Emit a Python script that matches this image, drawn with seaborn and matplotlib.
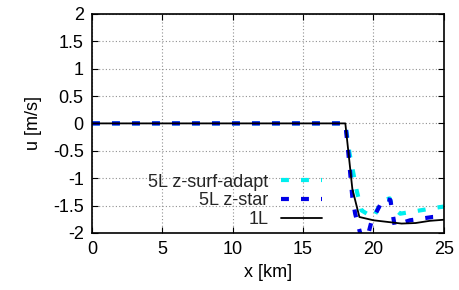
import numpy as np
import pandas as pd
import matplotlib
matplotlib.use("Agg")
import matplotlib.pyplot as plt
import seaborn as sns

# data
x_1l = [0, 5, 10, 15, 18, 18.5, 19, 20, 21, 22, 23, 24, 25]
u_1l = [0, 0, 0, 0, 0, -1.2, -1.71, -1.77, -1.8, -1.83, -1.82, -1.78, -1.76]

x_surf = [0, 5, 10, 15, 18, 18.3, 18.8, 19.15, 20.0, 20.6, 21.15, 21.35, 21.9, 23.3, 24.7, 25]
u_surf = [0, 0, 0, 0, 0, -0.55, -1.22, -1.59, -1.72, -1.41, -1.37, -1.53, -1.65, -1.59, -1.53, -1.52]

x_star = [0, 5, 10, 15, 18, 18.2, 18.35, 18.5, 18.7, 19.0, 19.35, 19.85, 20.45, 20.7, 21.2, 21.5, 22.6, 24.2, 25]
u_star = [0, 0, 0, 0, 0, -0.5, -0.92, -1.35, -1.65, -1.95, -2.3, -1.8, -1.5, -1.37, -1.4, -1.86, -1.77, -1.71, -1.7]

labels = ["5L z-surf-adapt", "5L z-star", "1L"]

sns.set_theme(style="white")
plt.rcParams['font.family'] = ['Liberation Sans', 'DejaVu Sans']

fig = plt.figure(figsize=(4.59, 2.90), dpi=100)
ax = fig.add_axes([0.2004, 0.197, 0.7666, 0.755])

sns.lineplot(x=x_surf, y=u_surf, ax=ax, color='#00eeee', lw=3.0, label=labels[0], sort=False)
sns.lineplot(x=x_star, y=u_star, ax=ax, color='#0000e6', lw=3.0, label=labels[1], sort=False)
sns.lineplot(x=x_1l, y=u_1l, ax=ax, color='black', lw=1.3, label=labels[2], sort=False)
lines = ax.get_lines()
lines[0].set_dashes([1.9, 2.9])
lines[1].set_dashes([1.9, 2.9])

ax.set_xlim(0, 25)
ax.set_ylim(-2, 2)
ax.set_xticks(np.arange(0, 26, 5))
ax.set_yticks(np.arange(-2, 2.01, 0.5))
ax.set_yticklabels(['-2', '-1.5', '-1', '-0.5', '0', '0.5', '1', '1.5', '2'])
ax.grid(True, color='#909090', linestyle=(0, (1, 2)), linewidth=0.8)
for s in ax.spines.values():
    s.set_color('black')
    s.set_linewidth(1.2)
ax.tick_params(direction='in', length=4, width=0.8, colors='black', labelsize=13,
               top=True, right=True, bottom=True, left=True, pad=6)
ax.set_xlabel('x [km]', fontsize=13, color='black', labelpad=4)
ax.set_ylabel('u [m/s]', fontsize=13, color='black', labelpad=8)

leg = ax.legend(loc='center', bbox_to_anchor=(0.407, 0.146), frameon=False, markerfirst=False,
                fontsize=13, handlelength=2.3, labelspacing=0.1, handletextpad=0.7)
for col in leg._legend_box._children[1]._children:
    col.align = 'right'

fig.savefig('out.png', dpi=100)
